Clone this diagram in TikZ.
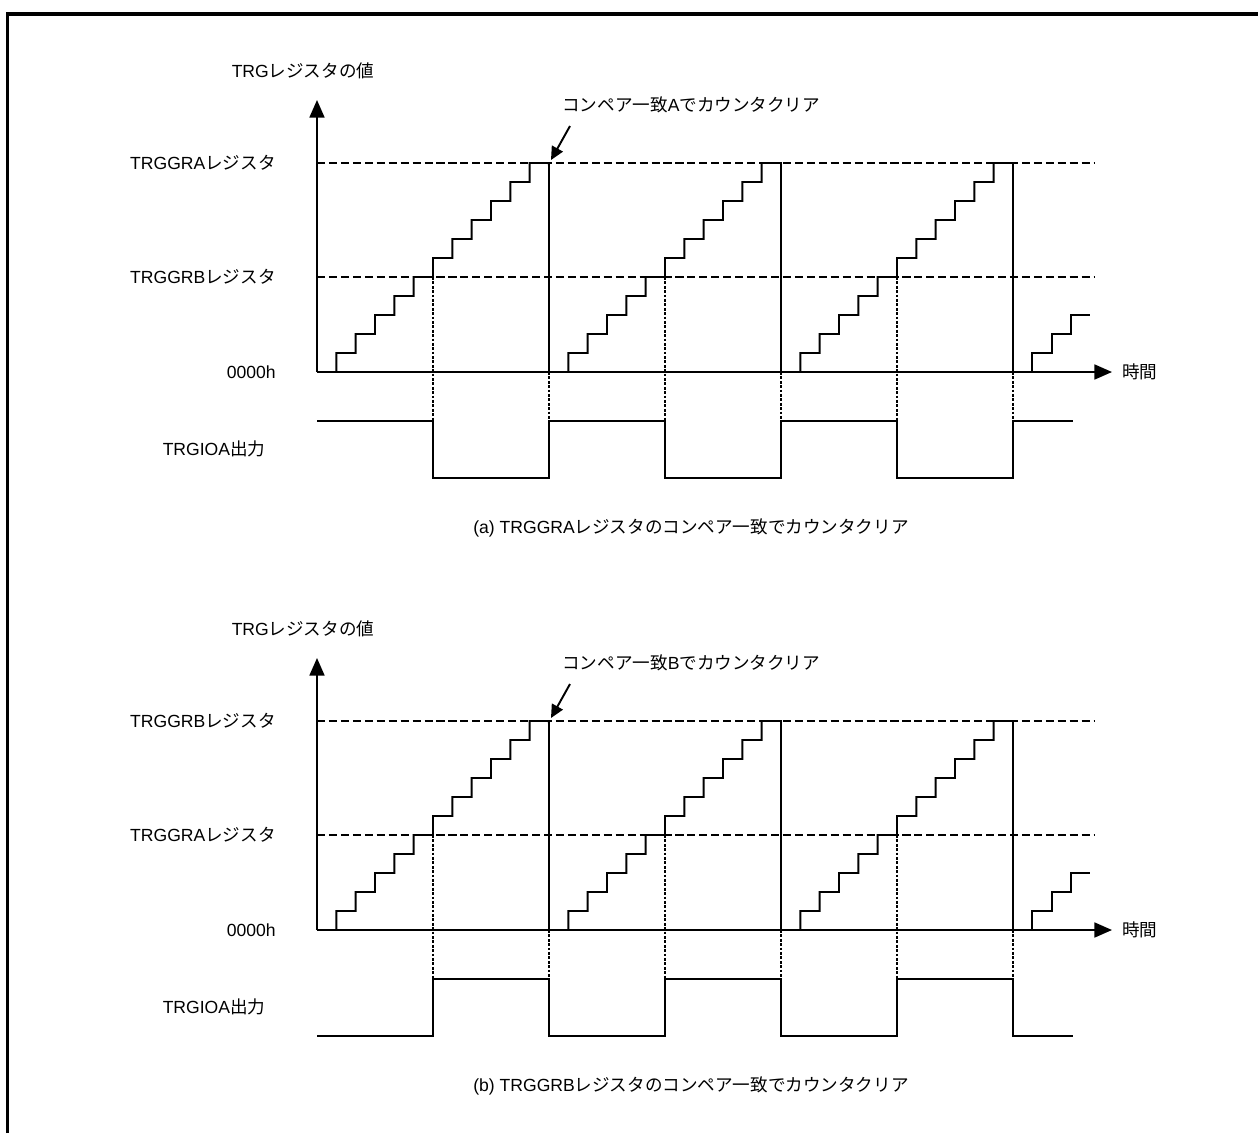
\documentclass[tikz,border=0pt]{standalone}
\usepackage{fontspec}
\setmainfont{Liberation Sans}
\newfontfamily\jpfont{Noto Sans CJK JP}
\usepackage{tikz}
\usetikzlibrary{arrows.meta,positioning}

\tikzset{
  lbl/.style={font=\fontsize{10}{12}\selectfont,inner sep=0pt},
  wave/.style={line width=1.1pt},
  axisline/.style={line width=1.1pt,-{Triangle[length=10pt,width=8.5pt]}},
  lvl/.style={line width=1.6pt,dash pattern=on 4.6pt off 2.2pt},
  syncline/.style={line width=1.6pt,dash pattern=on 1.6pt off 0.9pt},
}

\begin{document}
\begin{tikzpicture}[x=0.02cm,y=-0.02cm]
  \useasboundingbox (0,0) rectangle (1258,1133);
  % frame
  \draw[line width=1.8pt] (7.5,1133) -- (7.5,14) -- (1258,14);

  \foreach \oy/\pn/\upr/\lwr/\ya/\yb in {0/a/A/B/421/478, 558/b/B/A/478/421} {
    % labels
    \node[lbl] (val\pn) at (303,71+\oy) {TRG{\jpfont レジスタの値}};
    \node[lbl,anchor=east] (top\pn) at (276,163+\oy) {TRGGR\upr{\jpfont レジスタ}};
    \node[lbl,anchor=east] (mid\pn) at (276,277+\oy) {TRGGR\lwr{\jpfont レジスタ}};
    \node[lbl,anchor=east] (zero\pn) at (276,372+\oy) {0000h};
    \node[lbl] (out\pn) at (214,449+\oy) {TRGIOA{\jpfont 出力}};
    \node[lbl,anchor=west] (time\pn) at (1122,372+\oy) {{\jpfont 時間}};
    \node[lbl,anchor=west] (note\pn) at (562,105+\oy) {{\jpfont コンペア一致}\upr{\jpfont でカウンタクリア}};
    \node[lbl] (cap\pn) at (691,528+\oy) {(\pn) TRGGR\upr{\jpfont レジスタのコンペア一致でカウンタクリア}};

    % axes
    \coordinate (org\pn) at (317,372+\oy);
    \coordinate (ytip\pn) at (317,100+\oy);
    \coordinate (xtip\pn) at (1112,372+\oy);
    \draw[axisline] (org\pn) -- (ytip\pn);
    \draw[axisline] (org\pn) -- (xtip\pn);

    % compare levels
    \draw[lvl] (317,163+\oy) -- (1095,163+\oy);
    \draw[lvl] (317,277+\oy) -- (1095,277+\oy);

    % counter
    \foreach \k in {0,1,2} {
      \pgfmathsetmacro\cx{317+232*\k}
      \draw[wave] (\cx+19.33,372+\oy) \foreach \n in {1,...,11} { |- (\cx+19.33*\n+19.33,372-19*\n+\oy) } -- (\cx+232,372+\oy);
      \draw[syncline] (\cx+116,277+\oy) -- (\cx+116,421+\oy);
      \draw[syncline] (\cx+232,372+\oy) -- (\cx+232,421+\oy);
    }
    \draw[wave] (1032.3,372+\oy) \foreach \n in {1,2,3} { |- (1013+19.33*\n+19.33,372-19*\n+\oy) };

    % output
    \draw[wave] (317,\ya+\oy) \foreach \k in {0,1,2} { -| (433+232*\k,\yb+\oy) -| (549+232*\k,\ya+\oy) } -- (1073,\ya+\oy);

    % note arrow
    \coordinate (tail\pn) at (570,126+\oy);
    \coordinate (tip\pn) at (551,160+\oy);
    \draw[wave,-{Triangle[length=7.5pt,width=7pt]}] (tail\pn) -- (tip\pn);
  }
\end{tikzpicture}
\end{document}
